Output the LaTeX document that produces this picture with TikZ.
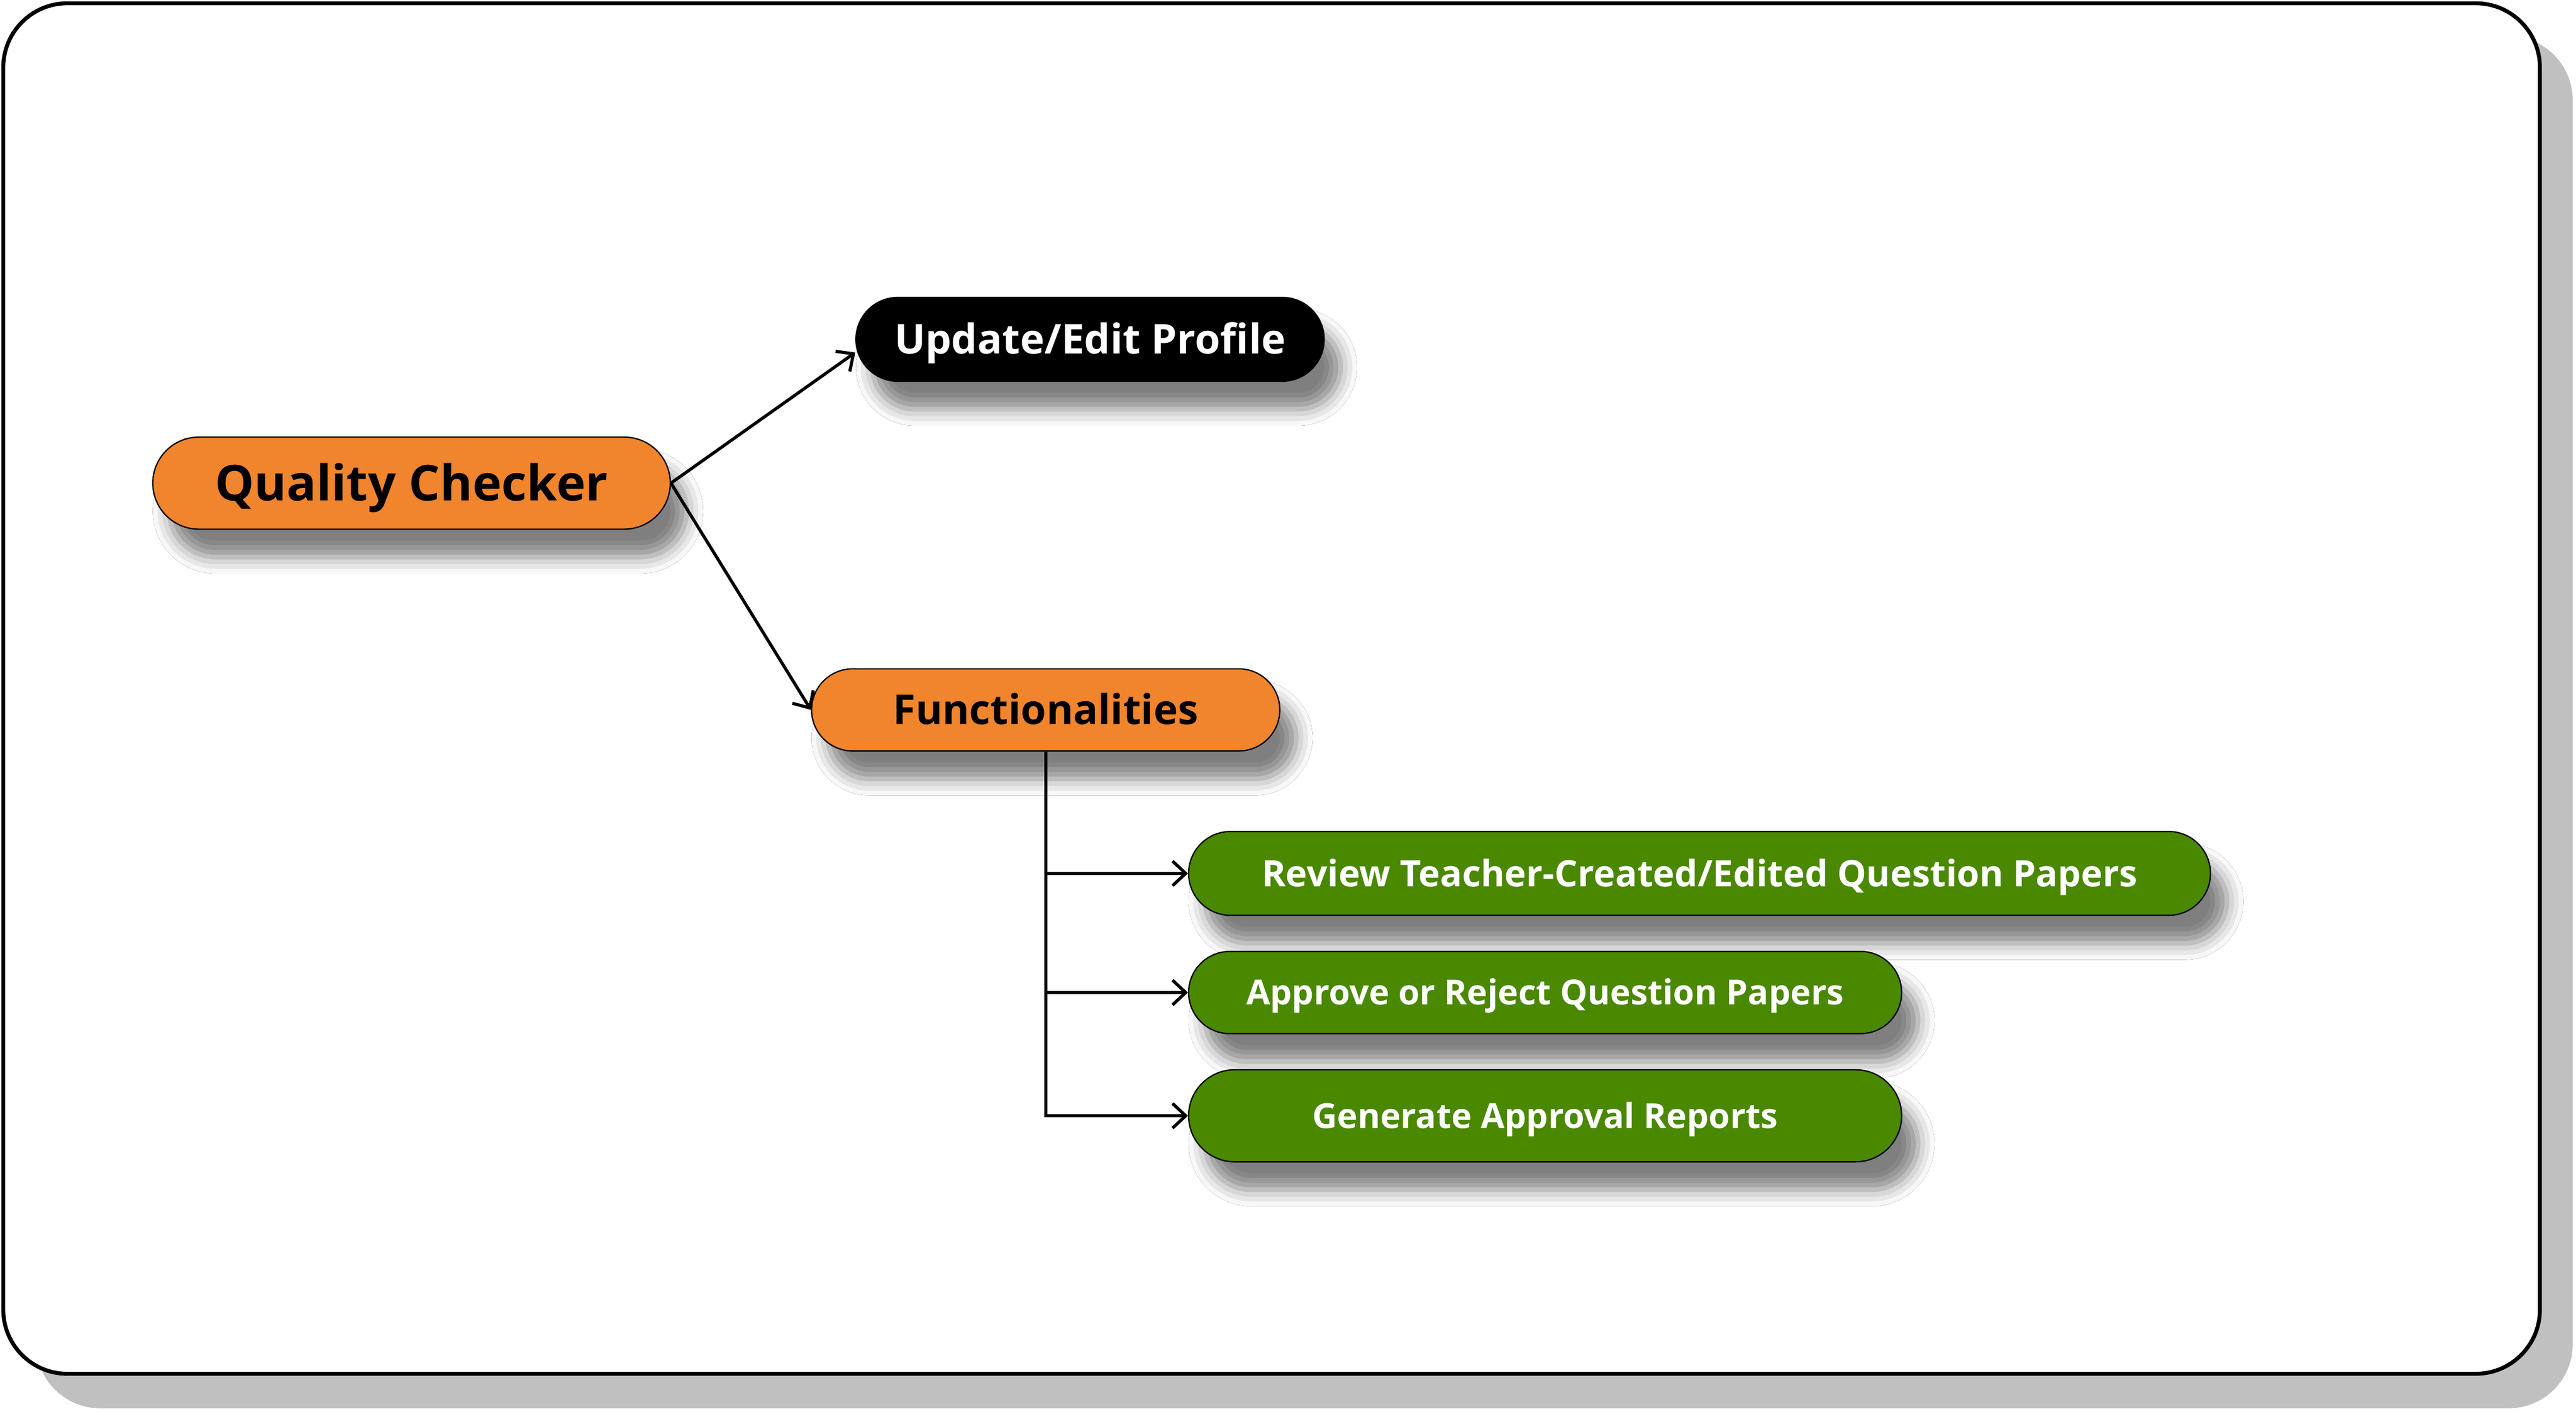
\documentclass[tikz,border=0pt]{standalone}
\usepackage{fontspec}
\setmainfont{Open Sans}
\usetikzlibrary{shapes.misc,shadows.blur,arrows.meta,calc}
\definecolor{qcorange}{HTML}{F0852D}
\definecolor{qcgreen}{HTML}{4A8800}
\definecolor{frameshadow}{HTML}{C0C0C0}
\begin{document}
\begin{tikzpicture}[x=1pt,y=-1pt,
  pill/.style={rounded rectangle, draw=black, line width=0.8pt, inner sep=0pt,
    blur shadow={shadow xshift=10pt,shadow yshift=-17pt,shadow blur radius=10pt,shadow opacity=50}},
  bigtext/.style={font=\bfseries\fontsize{30}{36}\selectfont, text height=21.4pt, text depth=0pt},
  midtext/.style={font=\bfseries\fontsize{25}{30}\selectfont, text height=17.8pt, text depth=0pt},
  smalltext/.style={font=\bfseries\fontsize{22.2}{27}\selectfont, text height=15.9pt, text depth=0pt},
  smallertext/.style={font=\bfseries\fontsize{21}{26}\selectfont, text height=15pt, text depth=0pt},
  conn/.style={line width=1.9pt, -{Straight Barb[length=8pt,width=15pt]}}]
\useasboundingbox (0,0) rectangle (1568,859);
% frame
\fill[frameshadow, rounded corners=39pt] (22,22) rectangle (1566,857);
\draw[line width=2.4pt, fill=white, rounded corners=39pt] (2,2) rectangle (1546,836);
% nodes
\node[pill, fill=qcorange, minimum width=315pt, minimum height=56pt, bigtext] (qc) at (250.5,294) {Quality Checker};
\node[pill, fill=black, text=white, minimum width=285pt, minimum height=51pt, midtext] (upd) at (663.5,206.5) {Update/Edit Profile};
\node[pill, fill=qcorange, minimum width=285pt, minimum height=50pt, midtext] (fun) at (636.5,432) {Functionalities};
\node[pill, fill=qcgreen, text=white, minimum width=622pt, minimum height=51pt, smalltext] (rev) at (1034.5,531.5) {Review Teacher-Created/Edited Question Papers};
\node[pill, fill=qcgreen, text=white, minimum width=434pt, minimum height=50pt, smallertext] (app) at (940.5,604) {Approve or Reject Question Papers};
\node[pill, fill=qcgreen, text=white, minimum width=434pt, minimum height=56pt, smallertext] (gen) at (940.5,679) {Generate Approval Reports};
% connectors
\draw[conn] (qc.east) -- ($(upd.west)+(0,8)$);
\draw[conn] (qc.east) -- (fun.west);
\draw[conn] (fun.south) |- (rev.west);
\draw[conn] (fun.south) |- (app.west);
\draw[conn] (fun.south) |- (gen.west);
\end{tikzpicture}
\end{document}
